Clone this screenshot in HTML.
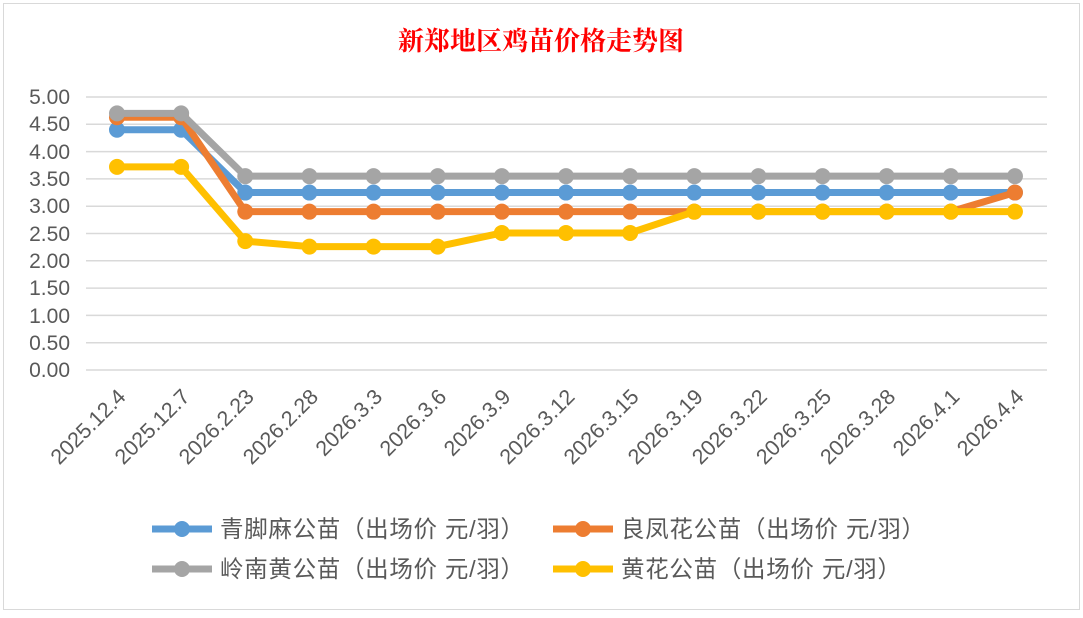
<!DOCTYPE html><html><head><meta charset="utf-8"><style>body{margin:0;background:#fff}</style></head><body>
<svg width="1083" height="613" xmlns="http://www.w3.org/2000/svg" font-family="Liberation Sans, Noto Sans CJK SC, sans-serif">
<rect x="0" y="0" width="1083" height="613" fill="#fff"/>
<rect x="3.5" y="3.5" width="1076" height="606" fill="none" stroke="#d9d9d9" stroke-width="1"/>
<text x="541" y="50" text-anchor="middle" font-size="26" font-weight="bold" fill="#ff0000" font-family="Liberation Serif, Noto Serif CJK SC, serif">新郑地区鸡苗价格走势图</text>
<g stroke="#d9d9d9" stroke-width="1.5">
<line x1="86" x2="1047" y1="97" y2="97"/><line x1="86" x2="1047" y1="124.3" y2="124.3"/><line x1="86" x2="1047" y1="151.6" y2="151.6"/><line x1="86" x2="1047" y1="178.9" y2="178.9"/><line x1="86" x2="1047" y1="206.2" y2="206.2"/><line x1="86" x2="1047" y1="233.5" y2="233.5"/><line x1="86" x2="1047" y1="260.8" y2="260.8"/><line x1="86" x2="1047" y1="288.1" y2="288.1"/><line x1="86" x2="1047" y1="315.4" y2="315.4"/><line x1="86" x2="1047" y1="342.7" y2="342.7"/><line x1="86" x2="1047" y1="370" y2="370"/>
</g>
<g font-size="21" fill="#595959" text-anchor="end">
<text x="70" y="104">5.00</text><text x="70" y="131">4.50</text><text x="70" y="159">4.00</text><text x="70" y="186">3.50</text><text x="70" y="213">3.00</text><text x="70" y="241">2.50</text><text x="70" y="268">2.00</text><text x="70" y="295">1.50</text><text x="70" y="323">1.00</text><text x="70" y="350">0.50</text><text x="70" y="377">0.00</text>
</g>
<g font-size="21.5" fill="#595959" text-anchor="end" id="xl"></g>
<g fill="none" stroke-width="7" stroke-linejoin="round" id="lines"></g>
<g font-size="23.5" fill="#595959">
<line x1="152" x2="212" y1="529" y2="529" stroke="#5b9bd5" stroke-width="7"/><circle cx="182" cy="529" r="8" fill="#5b9bd5"/>
<text x="220" y="537" textLength="304">青脚麻公苗（出场价 元/羽）</text>
<line x1="553" x2="613" y1="529" y2="529" stroke="#ed7d31" stroke-width="7"/><circle cx="583" cy="529" r="8" fill="#ed7d31"/>
<text x="621" y="537" textLength="304">良凤花公苗（出场价 元/羽）</text>
<line x1="152" x2="212" y1="569" y2="569" stroke="#a5a5a5" stroke-width="7"/><circle cx="182" cy="569" r="8" fill="#a5a5a5"/>
<text x="220" y="577" textLength="304">岭南黄公苗（出场价 元/羽）</text>
<line x1="553" x2="613" y1="569" y2="569" stroke="#ffc000" stroke-width="7"/><circle cx="583" cy="569" r="8" fill="#ffc000"/>
<text x="621" y="577" textLength="280">黄花公苗（出场价 元/羽）</text>
</g>
</svg>
<script>
var ns="http://www.w3.org/2000/svg";
var labels=["2025.12.4","2025.12.7","2026.2.23","2026.2.28","2026.3.3","2026.3.6","2026.3.9","2026.3.12","2026.3.15","2026.3.19","2026.3.22","2026.3.25","2026.3.28","2026.4.1","2026.4.4"];
var X=function(i){return 117+i*64.14},Y=function(v){return 370-v*54.6};
var xl=document.getElementById("xl");
labels.forEach(function(l,i){var t=document.createElementNS(ns,"text");var x=X(i)+10,y=398;t.setAttribute("x",x);t.setAttribute("y",y);t.setAttribute("transform","rotate(-45 "+x+" "+y+")");t.textContent=l;xl.appendChild(t);});
var S=[["#5b9bd5",[4.4,4.4,3.25,3.25,3.25,3.25,3.25,3.25,3.25,3.25,3.25,3.25,3.25,3.25,3.25]],
["#ed7d31",[4.63,4.63,2.9,2.9,2.9,2.9,2.9,2.9,2.9,2.9,2.9,2.9,2.9,2.9,3.25]],
["#a5a5a5",[4.7,4.7,3.55,3.55,3.55,3.55,3.55,3.55,3.55,3.55,3.55,3.55,3.55,3.55,3.55]],
["#ffc000",[3.72,3.72,2.36,2.26,2.26,2.26,2.51,2.51,2.51,2.9,2.9,2.9,2.9,2.9,2.9]]];
var g=document.getElementById("lines");
S.forEach(function(s){var p=document.createElementNS(ns,"polyline");p.setAttribute("points",s[1].map(function(v,i){return X(i)+","+Y(v)}).join(" "));p.setAttribute("stroke",s[0]);g.appendChild(p);
s[1].forEach(function(v,i){var c=document.createElementNS(ns,"circle");c.setAttribute("cx",X(i));c.setAttribute("cy",Y(v));c.setAttribute("r",8);c.setAttribute("fill",s[0]);c.setAttribute("stroke","none");g.appendChild(c);});});
</script>
</body></html>
